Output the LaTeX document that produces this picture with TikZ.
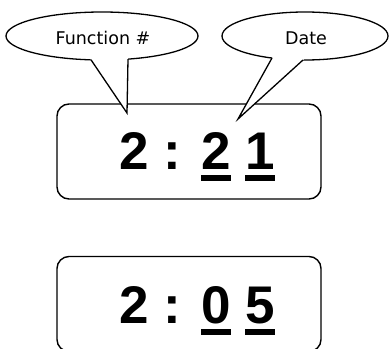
\documentclass[tikz,border=0pt]{standalone}
\usepackage{fontspec}
\usetikzlibrary{calc,shapes.geometric}
\newfontfamily\digitfont{Liberation Sans}
\newfontfamily\callfont{DejaVu Sans}
\newcommand\thickul[1]{\setbox0\hbox{#1}\rlap{\rule[-11.5pt]{\wd0}{6pt}}\box0\relax}
\tikzset{
  display/.style={draw, line width=1.4pt, rounded corners=12pt, minimum width=264pt, minimum height=95pt, inner sep=0pt},
  digits/.style={inner sep=0pt, anchor=base west, font=\digitfont\bfseries\fontsize{53}{53}\selectfont},
  bubble/.style={ellipse, draw, fill=white, line width=1.3pt, inner sep=0pt},
  bubbletext/.style={inner sep=0pt, font=\callfont\fontsize{17.5}{20}\selectfont},
  tail/.style={line width=1.3pt, line join=miter},
}
\begin{document}
\begin{tikzpicture}[x=1pt,y=-1pt]
\useasboundingbox (0,0) rectangle (390,348);
\clip (0,0) rectangle (390,348);
% displays
\node[display] (box1) at (189,151.5) {};
\node[display] (box2) at (189,304) {};
\node[digits] (d1) at (119.5,169.5) {2 : \thickul{2} \thickul{1}};
\node[digits] (d2) at (119.5,323.5) {2 : \thickul{0} \thickul{5}};
% left callout
\node[bubble, minimum width=192pt, minimum height=48pt] (fn) at (102,36) {};
\node[bubbletext] (fntext) at (103,38) {Function \#};
\coordinate (fa) at (91,59.8);
\coordinate (fb) at (128,59.1);
\coordinate (ftip) at (127,113);
\fill[white] ($(fa)!-2.5pt!(ftip)$) -- ($(fb)!-2.5pt!(ftip)$) -- (ftip) -- cycle;
\draw[tail] (fa) -- (ftip) -- (fb);
% right callout
\node[bubble, minimum width=166pt, minimum height=48pt] (dt) at (305,36) {};
\node[bubbletext] (dttext) at (306,38) {Date};
\coordinate (da) at (272,58);
\coordinate (db) at (303,60);
\coordinate (dtip) at (238,119);
\fill[white] ($(da)!-2.5pt!(dtip)$) -- ($(db)!-2.5pt!(dtip)$) -- (dtip) -- cycle;
\draw[tail] (da) -- (dtip) -- (db);
\end{tikzpicture}
\end{document}
